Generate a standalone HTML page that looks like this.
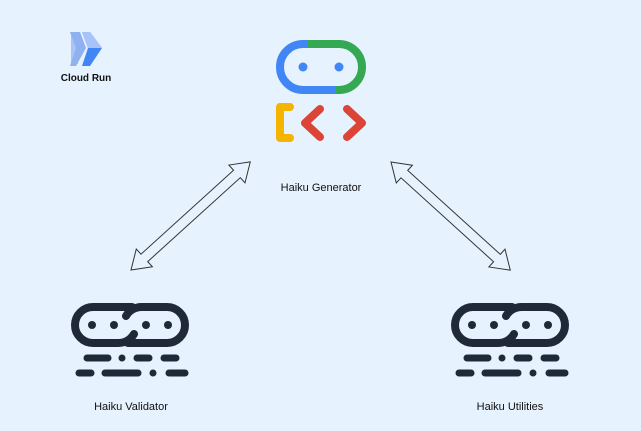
<!DOCTYPE html>
<html><head><style>
body{margin:0;background:#e6f2fd;}
svg{display:block}
text{font-family:"Liberation Sans",sans-serif;fill:#111}
</style></head><body>
<svg width="641" height="431" viewBox="0 0 641 431">
<rect width="641" height="431" fill="#e6f2fd"/>
<!-- Cloud Run -->
<polygon points="71,33 78,33 78,64 71,64" fill="#aac4f5" transform="skewX(0)"/>
<polygon points="70,32 80,32 86,48 76,66 70,66 76,48" fill="#8fb1f2"/>
<polygon points="82,32 90,32 102,48 90,66 82,66 88,48" fill="#4285f4"/>
<polygon points="82,32 90,32 102,48 88,48" fill="#a8c3fa"/>
<text x="86" y="81" font-size="10" font-weight="bold" text-anchor="middle" fill="#333">Cloud Run</text>
<!-- Generator -->
<path d="M310,44 L303,44 A23,23 0 0 0 303,90 L338,90" fill="none" stroke="#4285f4" stroke-width="8"/>
<path d="M308,44 L339,44 A23,23 0 0 1 339,90 L336,90" fill="none" stroke="#34a853" stroke-width="8"/>
<circle cx="303" cy="67" r="4.5" fill="#4285f4"/>
<circle cx="339" cy="67" r="4.5" fill="#4285f4"/>
<path d="M290,107 L280,107 L280,138 L290,138" fill="none" stroke="#f4b400" stroke-width="8" stroke-linecap="round" stroke-linejoin="round"/>
<path d="M320,109 L305,123 L320,137" fill="none" stroke="#db4437" stroke-width="8" stroke-linecap="round" stroke-linejoin="round"/>
<path d="M347,109 L362,123 L347,137" fill="none" stroke="#db4437" stroke-width="8" stroke-linecap="round" stroke-linejoin="round"/>
<text x="321" y="191" font-size="11" text-anchor="middle">Haiku Generator</text>
<!-- arrows -->
<g transform="translate(131,270) rotate(-42.2)">
<polygon points="0,0 18,-12 18,-5 143,-5 143,-12 161,0 143,12 143,5 18,5 18,12" fill="none" stroke="#333" stroke-width="1"/>
</g>
<g transform="translate(391,162) rotate(42.2)">
<polygon points="0,0 18,-12 18,-5 143,-5 143,-12 161,0 143,12 143,5 18,5 18,12" fill="none" stroke="#333" stroke-width="1"/>
</g>
<!-- chain icon -->
<defs>
<g id="chain">
<path d="M132,307 L93,307 A18,18 0 0 0 93,343 L118,343 A18,18 0 0 0 134,334" fill="none" stroke="#1f2937" stroke-width="8" stroke-linecap="round"/>
<path d="M128,343 L167,343 A18,18 0 0 0 167,307 L142,307 A18,18 0 0 0 126,316" fill="none" stroke="#1f2937" stroke-width="8" stroke-linecap="round"/>
<g fill="#1f2937"><circle cx="92" cy="325" r="4"/><circle cx="114" cy="325" r="4"/><circle cx="146" cy="325" r="4"/><circle cx="168" cy="325" r="4"/>
<circle cx="122" cy="358" r="3.5"/><circle cx="153" cy="373" r="3.5"/></g>
<g stroke="#1f2937" stroke-width="7" stroke-linecap="round">
<line x1="87" y1="358" x2="108" y2="358"/><line x1="137" y1="358" x2="149" y2="358"/><line x1="164" y1="358" x2="176" y2="358"/>
<line x1="79" y1="373" x2="91" y2="373"/><line x1="105" y1="373" x2="138" y2="373"/><line x1="169" y1="373" x2="185" y2="373"/>
</g>
</g>
</defs>
<use href="#chain"/>
<use href="#chain" x="380"/>
<text x="131" y="410" font-size="11" text-anchor="middle">Haiku Validator</text>
<text x="510" y="410" font-size="11" text-anchor="middle">Haiku Utilities</text>
</svg>
</body></html>
